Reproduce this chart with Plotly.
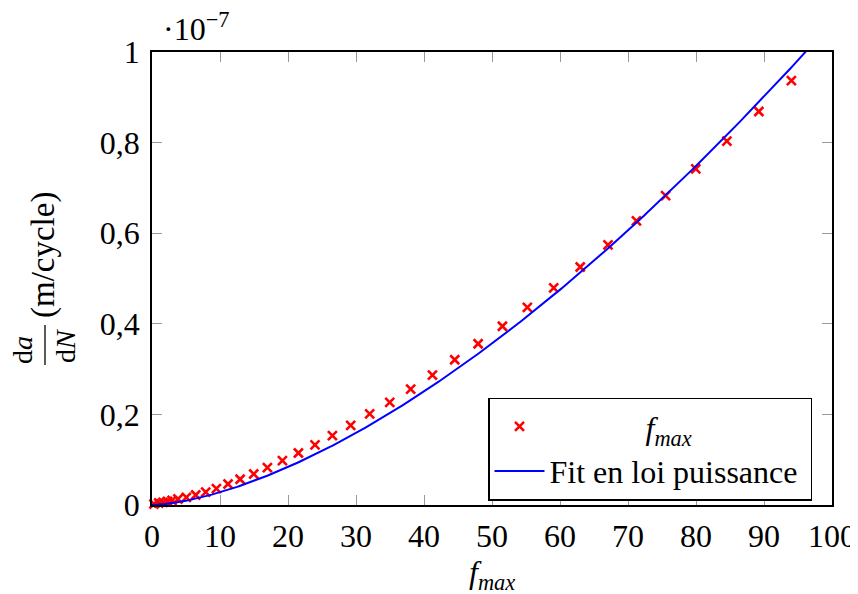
import numpy as np
import plotly.graph_objects as go

# ---- data ----
f_max = [0.29, 0.99, 1.63, 2.28, 2.96, 3.82, 5.06, 6.43, 7.90, 9.47, 11.18, 12.96,
         14.96, 16.97, 19.18, 21.53, 23.97, 26.53, 29.22, 32.01, 34.96, 38.04, 41.24,
         44.52, 47.96, 51.53, 55.20, 59.07, 62.97, 67.06, 71.24, 75.53, 79.97, 84.54,
         89.24, 94.03]
# da/dN in units of 1e-7 m/cycle
dadN_e7 = [0.0022, 0.0044, 0.0057, 0.0079, 0.0101, 0.0132, 0.0168, 0.0221, 0.0283,
           0.0360, 0.0463, 0.0569, 0.0684, 0.0824, 0.0979, 0.1147, 0.1326, 0.1533,
           0.1756, 0.2010, 0.2264, 0.2559, 0.2868, 0.3206, 0.3559, 0.3945, 0.4364,
           0.4794, 0.5253, 0.5742, 0.6272, 0.6830, 0.7419, 0.8032, 0.8687, 0.9367]

# power-law fit parameters: y = A * x^B  (units 1e-7)
FIT_A = 7.40e-4
FIT_B = 1.579

x_ticks = [0, 10, 20, 30, 40, 50, 60, 70, 80, 90, 100]
x_ticktext = ["0", "10", "20", "30", "40", "50", "60", "70", "80", "90", "100"]
y_ticks = [0, 0.2, 0.4, 0.6, 0.8, 1.0]
y_ticktext = ["0", "0,2", "0,4", "0,6", "0,8", "1"]

# ---- layout geometry (page pixels; the html body adds an 8px margin) ----
OFF = 8
W, H = 858 - OFF, 594 - OFF
ML, MT = 152 - OFF, 52 - OFF
PW, PH = 680, 453
MR, MB = W - ML - PW, H - MT - PH


def px_x(p):
    return (p - OFF - ML) / PW


def px_y(p):
    return (OFF + MT + PH - p) / PH


FONT = "Liberation Serif"
FS = 32
FS_FRAC = 28
FS_UNIT = 33

x_fit = np.linspace(0, 100, 400)
y_fit = FIT_A * x_fit ** FIT_B

fig = go.Figure()
fig.add_trace(go.Scatter(
    x=f_max, y=dadN_e7, mode="markers",
    name="\u00a0" * 12 + "<i>f<sub>max</sub></i>",
    marker=dict(symbol="x-thin", size=9, color="red",
                line=dict(width=2.6, color="red")),
    cliponaxis=False,
))
fig.add_trace(go.Scatter(
    x=x_fit, y=y_fit, mode="lines", name="Fit en loi puissance\u00a0",
    line=dict(color="#0000ff", width=2),
))

axis_common = dict(
    showgrid=False, zeroline=False, showline=True, linecolor="black",
    linewidth=1.5, mirror="allticks", ticks="inside", ticklen=10,
    tickcolor="#999999", tickwidth=1, automargin=False,
    tickfont=dict(family=FONT, size=FS, color="black"),
)

fig.update_layout(
    width=W, height=H,
    margin=dict(l=ML, r=MR, t=MT, b=MB, autoexpand=False),
    paper_bgcolor="white", plot_bgcolor="white",
    font=dict(family=FONT, size=FS, color="black"),
    xaxis=dict(range=[0, 100], tickvals=x_ticks, ticktext=x_ticktext,
               ticklabelstandoff=2, **axis_common),
    yaxis=dict(range=[0, 1], tickvals=y_ticks, ticktext=y_ticktext,
               ticklabelstandoff=4, **axis_common),
    legend=dict(x=px_x(812), y=px_y(449), xanchor="right", yanchor="middle",
                bordercolor="black", borderwidth=1.5, bgcolor="white",
                font=dict(family=FONT, size=FS, color="black"),
                itemwidth=50, tracegroupgap=0),
    showlegend=True,
)

annotations = [
    dict(text="·10<sup>−7</sup>", x=px_x(161), y=px_y(27), xanchor="left",
         yanchor="middle", showarrow=False, size=FS),
    dict(text="<i>f<sub>max</sub></i>", x=px_x(492), y=px_y(574), xanchor="center",
         yanchor="middle", showarrow=False, size=FS),
    dict(text="d<i>a</i>", x=px_x(22), y=px_y(350), xanchor="center",
         yanchor="middle", showarrow=False, textangle=-90, size=FS_FRAC),
    dict(text="d<i>N</i>", x=px_x(65), y=px_y(346), xanchor="center",
         yanchor="middle", showarrow=False, textangle=-90, size=FS_FRAC),
    dict(text="(m/cycle)", x=px_x(44), y=px_y(255), xanchor="center",
         yanchor="middle", showarrow=False, textangle=-90, size=FS_UNIT),
]
for a in annotations:
    sz = a.pop("size")
    a.update(xref="paper", yref="paper",
             font=dict(family=FONT, size=sz, color="black"))
fig.update_layout(annotations=annotations)

fig.add_shape(type="line", xref="paper", yref="paper",
              x0=px_x(45), x1=px_x(45), y0=px_y(325), y1=px_y(365),
              line=dict(color="black", width=1.3))

fig.write_html("out.html")
